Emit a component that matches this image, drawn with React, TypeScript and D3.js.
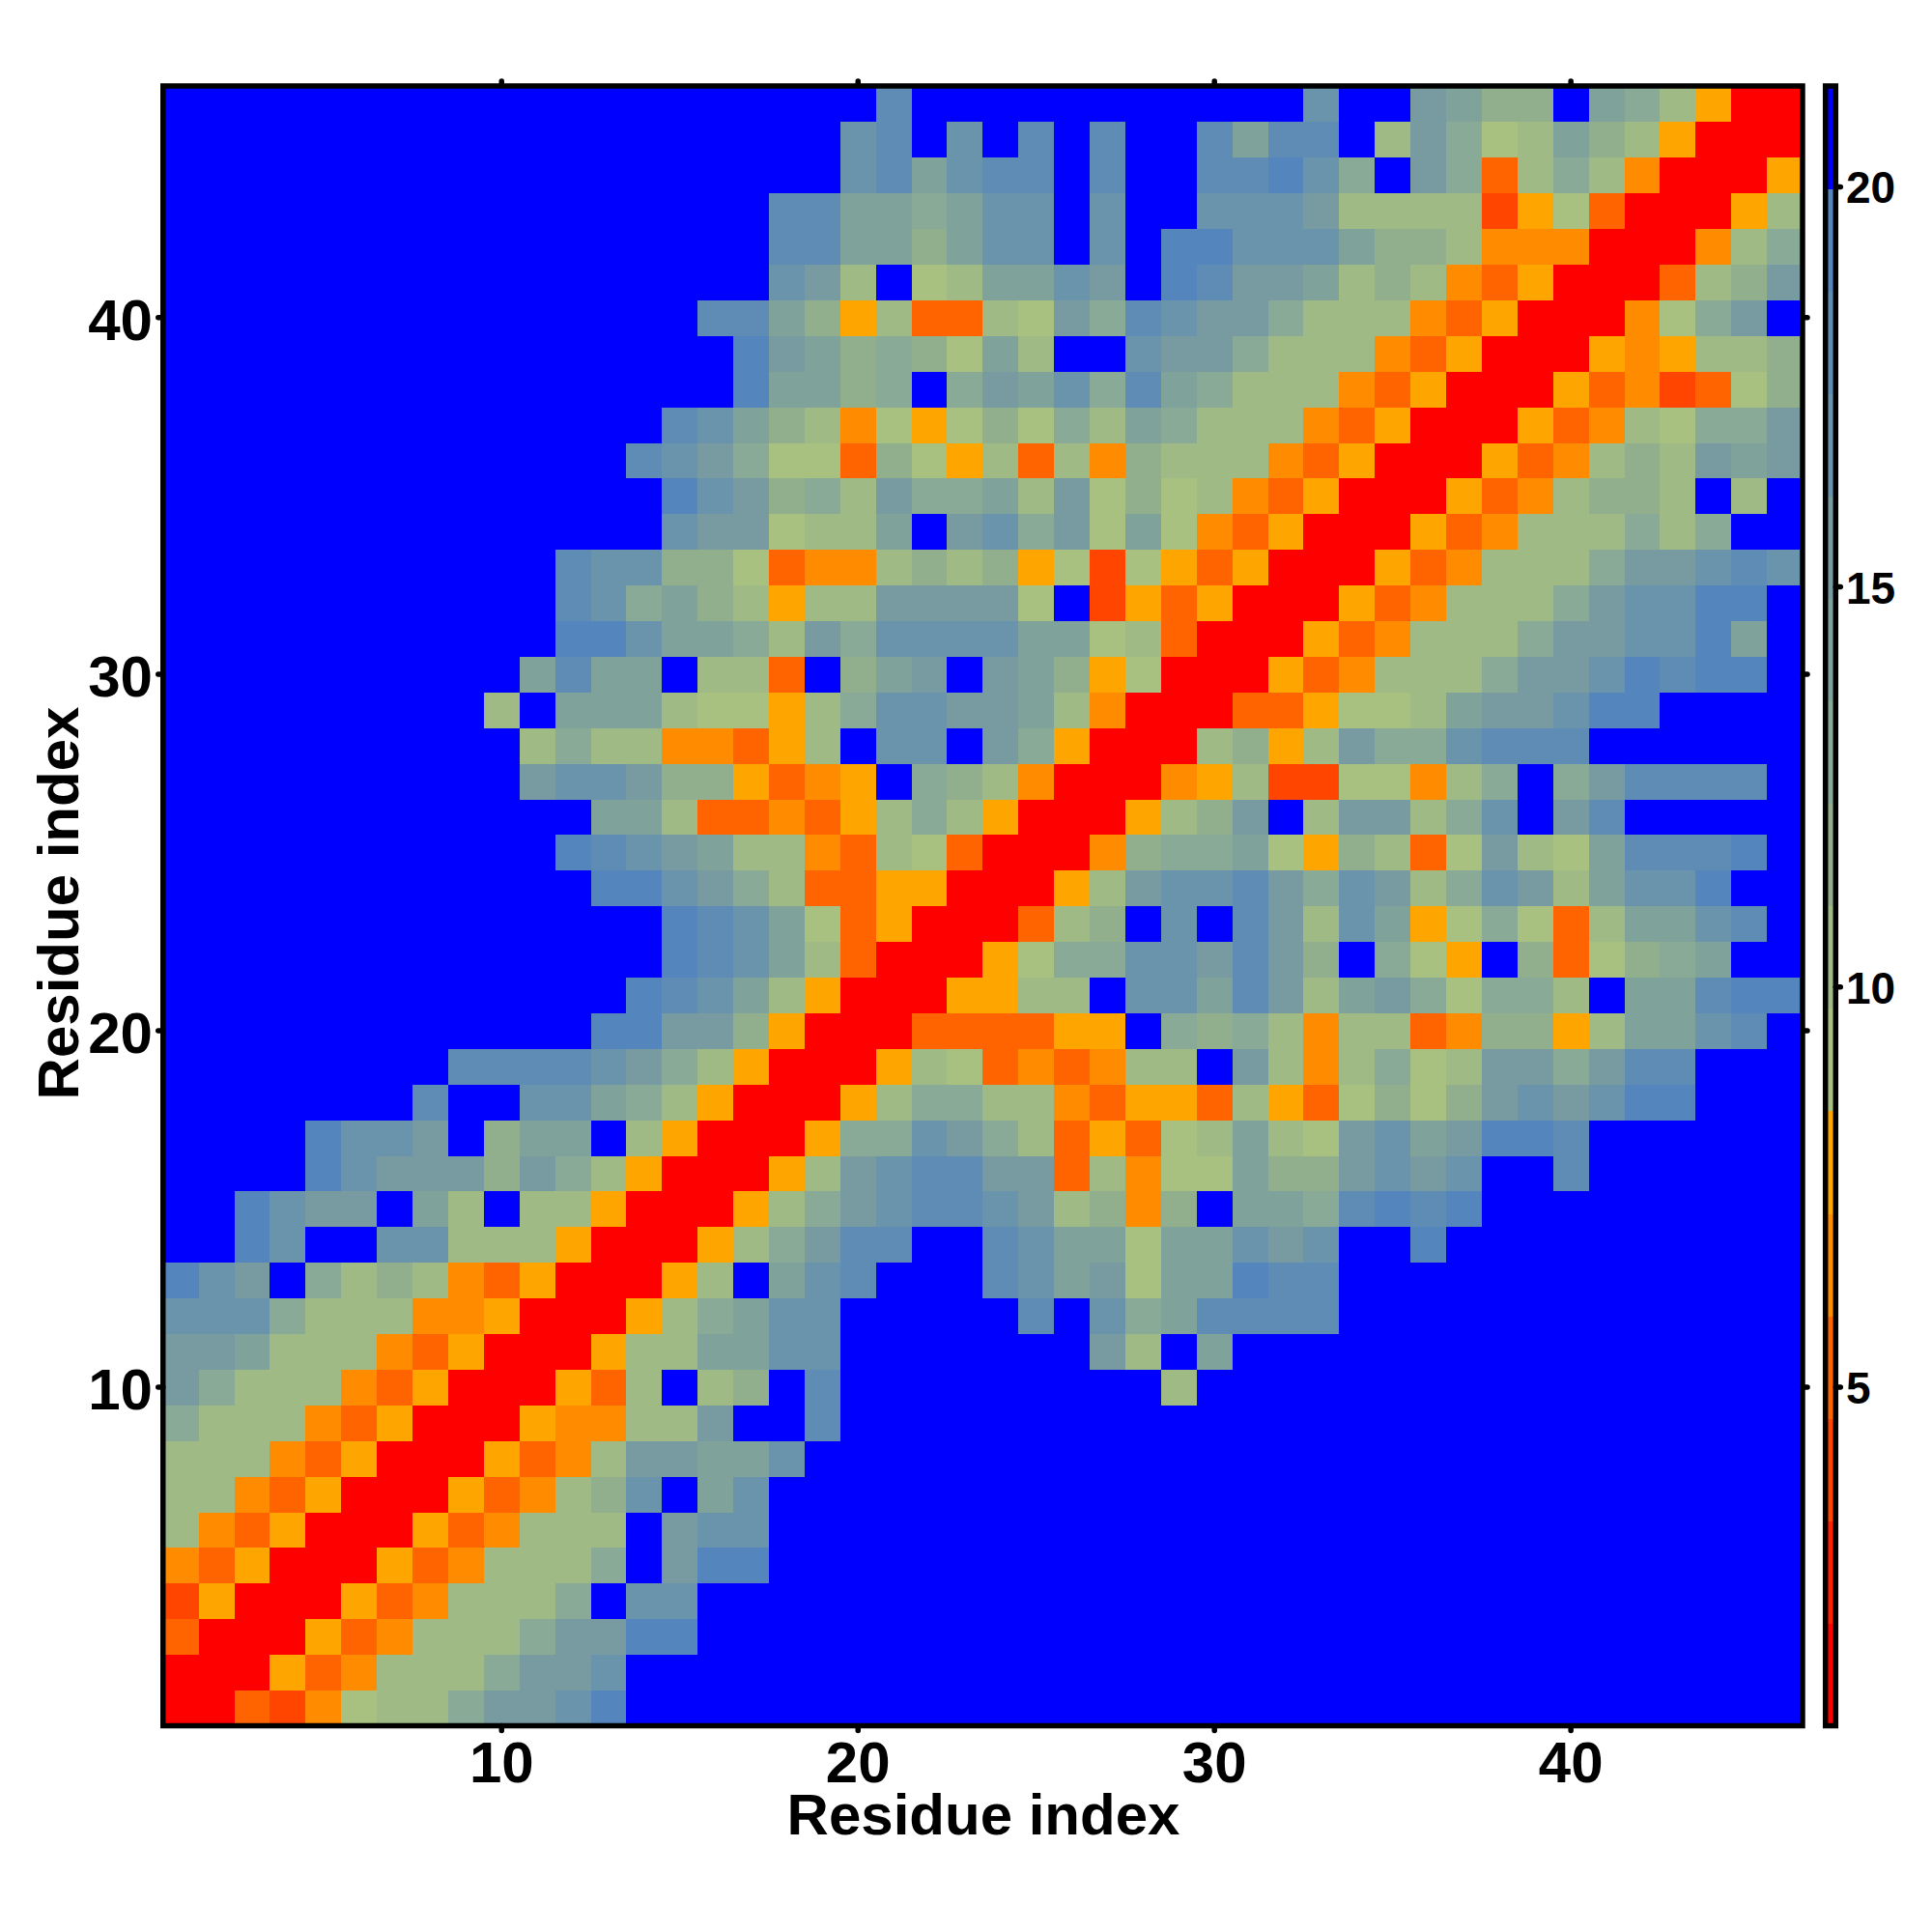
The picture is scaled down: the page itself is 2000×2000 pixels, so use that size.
import React from "react";
import * as d3 from "d3";

const _ = 21;
// Rows run from residue 46 (top) to residue 1 (bottom); columns from residue 1 to 46.
const r46 = [_,_,_,_,_,_,_,_,_,_, _,_,_,_,_,_,_,_,_,_, 18,_,_,_,_,_,_,_,_,_, _,_,16,_,_,14,13,11,11,_, 13,12,10,8,1,1];
const r45 = [_,_,_,_,_,_,_,_,_,_, _,_,_,_,_,_,_,_,_,16, 18,_,16,_,18,_,18,_,_,18, 13,18,17,_,10,14,12,9,10,13, 11,10,8,1,1,1];
const r44 = [_,_,_,_,_,_,_,_,_,_, _,_,_,_,_,_,_,_,_,16, 17,13,15,18,18,_,18,_,_,18, 18,19,16,12,_,14,12,5,10,12, 10,6,1,1,1,8];
const r43 = [_,_,_,_,_,_,_,_,_,_, _,_,_,_,_,_,_,18,17,13, 13,12,13,15,15,_,16,_,_,16, 16,16,14,10,10,10,10,4,8,9, 5,1,1,1,8,10];
const r42 = [_,_,_,_,_,_,_,_,_,_, _,_,_,_,_,_,_,18,17,13, 13,11,13,15,15,_,16,_,19,19, 16,16,15,13,11,11,10,6,6,6, 1,1,1,6,10,12];
const r41 = [_,_,_,_,_,_,_,_,_,_, _,_,_,_,_,_,_,16,14,10, _,9,10,13,13,16,14,_,19,17, 14,14,13,10,11,10,6,5,8,1, 1,1,5,10,11,14];
const r40 = [_,_,_,_,_,_,_,_,_,_, _,_,_,_,_,18,17,13,11,8, 10,5,5,10,9,14,12,17,16,14, 14,12,10,10,10,6,5,8,1,1, 1,6,9,12,14,_];
const r39 = [_,_,_,_,_,_,_,_,_,_, _,_,_,_,_,_,19,14,13,11, 12,11,9,13,10,_,_,16,14,14, 12,10,10,10,6,5,8,1,1,1, 8,6,8,10,10,11];
const r38 = [_,_,_,_,_,_,_,_,_,_, _,_,_,_,_,_,19,13,13,11, 12,_,12,14,13,16,12,17,13,12, 10,10,10,6,5,8,1,1,1,8, 5,6,4,5,9,11];
const r37 = [_,_,_,_,_,_,_,_,_,_, _,_,_,_,18,15,13,11,10,6, 9,8,9,11,9,12,10,13,12,10, 10,10,6,5,8,1,1,1,8,5, 6,10,9,12,12,14];
const r36 = [_,_,_,_,_,_,_,_,_,_, _,_,_,18,16,14,12,9,9,5, 11,9,8,10,5,10,6,11,10,10, 10,6,5,8,1,1,1,8,5,6, 10,11,10,14,13,14];
const r35 = [_,_,_,_,_,_,_,_,_,_, _,_,_,_,19,16,14,11,12,10, 14,12,12,13,10,14,9,11,9,10, 6,5,8,1,1,1,8,5,6,10, 11,11,10,_,10,_];
const r34 = [_,_,_,_,_,_,_,_,_,_, _,_,_,_,16,14,14,9,10,10, 13,_,14,15,12,14,9,13,9,6, 5,8,1,1,1,8,5,6,10,10, 10,12,10,12,_,_];
const r33 = [_,_,_,_,_,_,_,_,_,_, _,18,16,16,11,11,9,5,6,6, 10,11,10,11,8,9,4,9,8,5, 8,1,1,1,8,5,6,10,10,10, 12,14,14,16,17,15];
const r32 = [_,_,_,_,_,_,_,_,_,_, _,18,16,12,13,11,10,8,10,10, 14,14,14,14,9,_,4,8,5,8, 1,1,1,8,5,6,10,10,10,12, 14,15,15,19,19,_];
const r31 = [_,_,_,_,_,_,_,_,_,_, _,19,19,15,13,13,12,10,14,12, 16,16,16,16,13,13,9,10,5,1, 1,1,8,5,6,10,10,10,12,14, 14,16,16,19,13,_];
const r30 = [_,_,_,_,_,_,_,_,_,_, 13,17,13,13,_,10,10,5,_,11, 13,14,_,14,13,11,8,9,1,1, 1,8,5,6,10,10,10,12,14,14, 16,19,17,19,19,_];
const r29 = [_,_,_,_,_,_,_,_,_,10, _,13,13,13,10,9,9,8,10,12, 16,16,14,14,13,10,6,1,1,1, 5,5,8,9,9,10,13,14,14,16, 19,19,_,_,_,_];
const r28 = [_,_,_,_,_,_,_,_,_,_, 10,12,10,10,6,6,5,8,10,_, 16,16,_,14,12,8,1,1,1,10, 11,8,10,14,12,12,15,18,17,18, _,_,_,_,_,_];
const r27 = [_,_,_,_,_,_,_,_,_,_, 14,16,15,14,11,11,8,5,6,8, _,12,11,10,6,1,1,1,6,8, 10,4,4,9,9,6,10,12,_,12, 14,17,17,18,18,_];
const r26 = [_,_,_,_,_,_,_,_,_,_, _,_,13,13,10,5,5,6,5,8, 10,12,10,8,1,1,1,8,10,11, 14,_,10,14,14,10,12,16,_,14, 17,_,_,_,_,_];
const r25 = [_,_,_,_,_,_,_,_,_,_, _,19,17,16,14,13,10,10,6,5, 10,9,5,1,1,1,6,11,12,12, 13,9,8,11,10,5,9,14,10,9, 13,17,17,18,19,_];
const r24 = [_,_,_,_,_,_,_,_,_,_, _,_,19,19,16,14,12,10,5,5, 8,8,1,1,1,8,10,14,15,15, 17,14,12,15,14,10,12,15,14,10, 13,16,16,19,_,_];
const r23 = [_,_,_,_,_,_,_,_,_,_, _,_,_,_,19,18,15,13,9,5, 8,1,1,1,5,10,11,_,15,_, 17,14,10,15,13,8,9,12,9,5, 10,13,13,16,17,_];
const r22 = [_,_,_,_,_,_,_,_,_,_, _,_,_,_,19,17,15,13,10,5, 1,1,1,8,9,12,12,16,16,14, 17,14,11,_,12,9,8,_,11,5, 9,11,12,13,_,_];
const r21 = [_,_,_,_,_,_,_,_,_,_, _,_,_,19,17,15,13,10,8,1, 1,1,8,8,10,10,_,16,16,13, 17,14,10,13,14,12,9,12,12,10, _,13,13,17,19,19];
const r20 = [_,_,_,_,_,_,_,_,_,_, _,_,19,19,14,14,11,8,1,1, 1,5,5,5,5,8,8,_,12,11, 12,10,6,10,10,5,6,11,11,8, 10,13,13,16,17,_];
const r19 = [_,_,_,_,_,_,_,_,18,18, 17,17,16,14,12,10,8,1,1,1, 8,10,9,5,6,5,6,10,10,_, 14,10,6,10,12,9,10,14,14,12, 14,18,18,_,_,_];
const r18 = [_,_,_,_,_,_,_,17,_,_, 16,16,13,12,10,8,1,1,1,8, 10,12,12,10,10,6,5,8,8,5, 10,8,5,9,11,9,11,14,15,14, 16,19,19,_,_,_];
const r17 = [_,_,_,_,19,16,16,14,_,11, 13,13,_,10,8,1,1,1,8,12, 12,15,14,12,10,5,8,5,9,10, 13,10,9,14,15,13,14,19,19,18, _,_,_,_,_,_];
const r16 = [_,_,_,_,19,15,14,14,14,11, 14,12,10,8,1,1,1,8,10,14, 15,17,17,14,14,5,10,6,9,9, 13,11,11,14,16,14,15,_,_,18, _,_,_,_,_,_];
const r15 = [_,_,19,16,14,14,_,13,10,_, 10,10,8,1,1,1,8,10,12,14, 16,18,18,16,14,10,11,6,11,_, 13,13,12,17,19,18,19,_,_,_, _,_,_,_,_,_];
const r14 = [_,_,19,16,_,_,15,15,10,10, 10,8,1,1,1,8,10,12,14,18, 18,_,_,18,16,13,13,9,13,13, 16,14,16,_,_,19,_,_,_,_, _,_,_,_,_,_];
const r13 = [19,16,14,_,12,10,11,10,6,5, 8,1,1,1,8,10,_,13,15,18, _,_,_,18,16,13,14,9,13,13, 19,17,17,_,_,_,_,_,_,_, _,_,_,_,_,_];
const r12 = [16,15,15,12,10,10,10,6,6,8, 1,1,1,8,10,12,13,15,16,_, _,_,_,_,18,_,16,12,13,17, 18,18,18,_,_,_,_,_,_,_, _,_,_,_,_,_];
const r11 = [14,14,13,10,10,10,6,5,8,1, 1,1,8,10,10,13,13,15,15,_, _,_,_,_,_,_,14,10,_,13, _,_,_,_,_,_,_,_,_,_, _,_,_,_,_,_];
const r10 = [14,12,10,10,10,6,5,8,1,1, 1,8,5,10,_,10,11,_,18,_, _,_,_,_,_,_,_,_,10,_, _,_,_,_,_,_,_,_,_,_, _,_,_,_,_,_];
const r9 = [12,10,10,10,6,5,8,1,1,1, 8,6,6,10,10,14,_,_,18,_, _,_,_,_,_,_,_,_,_,_, _,_,_,_,_,_,_,_,_,_, _,_,_,_,_,_];
const r8 = [10,10,10,6,5,8,1,1,1,8, 5,6,10,14,14,13,13,16,_,_, _,_,_,_,_,_,_,_,_,_, _,_,_,_,_,_,_,_,_,_, _,_,_,_,_,_];
const r7 = [10,10,6,5,8,1,1,1,8,5, 6,10,11,15,_,13,16,_,_,_, _,_,_,_,_,_,_,_,_,_, _,_,_,_,_,_,_,_,_,_, _,_,_,_,_,_];
const r6 = [10,6,5,8,1,1,1,8,5,6, 10,10,10,_,14,16,16,_,_,_, _,_,_,_,_,_,_,_,_,_, _,_,_,_,_,_,_,_,_,_, _,_,_,_,_,_];
const r5 = [6,5,8,1,1,1,8,5,6,10, 10,10,12,_,14,19,19,_,_,_, _,_,_,_,_,_,_,_,_,_, _,_,_,_,_,_,_,_,_,_, _,_,_,_,_,_];
const r4 = [4,8,1,1,1,8,5,6,10,10, 10,12,_,16,16,_,_,_,_,_, _,_,_,_,_,_,_,_,_,_, _,_,_,_,_,_,_,_,_,_, _,_,_,_,_,_];
const r3 = [5,1,1,1,8,5,6,10,10,10, 12,14,14,19,19,_,_,_,_,_, _,_,_,_,_,_,_,_,_,_, _,_,_,_,_,_,_,_,_,_, _,_,_,_,_,_];
const r2 = [1,1,1,8,5,6,10,10,10,12, 14,14,16,_,_,_,_,_,_,_, _,_,_,_,_,_,_,_,_,_, _,_,_,_,_,_,_,_,_,_, _,_,_,_,_,_];
const r1 = [1,1,5,4,6,9,10,10,12,14, 14,16,19,_,_,_,_,_,_,_, _,_,_,_,_,_,_,_,_,_, _,_,_,_,_,_,_,_,_,_, _,_,_,_,_,_];

const rowsFromBottom = [r1,r2,r3,r4,r5,r6,r7,r8,r9,r10,r11,r12,r13,r14,r15,r16,r17,r18,r19,r20,r21,r22,r23,r24,r25,r26,r27,r28,r29,r30,r31,r32,r33,r34,r35,r36,r37,r38,r39,r40,r41,r42,r43,r44,r45,r46];

const bandColors = ["#ff0000","#ff2000","#ff4500","#ff6400","#ff8c00","#ffa500","#a8c080","#9fba85","#92af8d","#88aa96","#7fa39b","#789ba2","#6a94ac","#5f8cb5","#5585bd","#0000ff"];
const bandThresholds = [2,3.3,4.6,5.9,7.2,8.5,9.5,10.5,11.5,12.5,13.6,14.8,16.5,18.5,20];
const axisTicks = [10,20,30,40];
const barTicks = [5,10,15,20];
const barDomain = [0.77,21.26];
const title = "Residue index";

const FONT = "'Liberation Sans', Arial, Helvetica, sans-serif";
const SW = 5.5;

export default function App() {
  const x = d3.scaleLinear().domain([0.5,46.5]).range([168.75,1866]);
  const y = d3.scaleLinear().domain([0.5,46.5]).range([1786.5,89]);
  const barY = d3.scaleLinear().domain(barDomain).range([1786.5,89]);
  const color = d3.scaleThreshold<number,string>().domain(bandThresholds).range(bandColors);
  const bandStep = (barDomain[1]-barDomain[0])/bandColors.length;
  const barX0 = 1889.7, barX1 = 1900.3;
  return (
    <svg width={2000} height={2000} style={{position:"absolute",left:0,top:0,background:"#fff"}} fontFamily={FONT} fontWeight="bold">
      <g shapeRendering="crispEdges">
        {rowsFromBottom.map((row,ri)=>row.map((v,ci)=>(
          <rect key={ri+"-"+ci} x={x(ci+0.5)} y={y(ri+1.5)} width={x(ci+1.5)-x(ci+0.5)+0.5} height={y(ri+0.5)-y(ri+1.5)+0.5} fill={color(v)}/>
        )))}
      </g>
      <rect x={x(0.5)} y={y(46.5)} width={x(46.5)-x(0.5)} height={y(0.5)-y(46.5)} fill="none" stroke="#000" strokeWidth={SW}/>
      {axisTicks.map(t=>(
        <g key={t} stroke="#000" strokeWidth={SW} strokeLinecap="round">
          <line x1={x(t)} x2={x(t)} y1={y(0.5)} y2={y(0.5)+5}/>
          <line x1={x(t)} x2={x(t)} y1={y(46.5)} y2={y(46.5)-5}/>
          <line y1={y(t)} y2={y(t)} x1={x(0.5)} x2={x(0.5)-5}/>
          <line y1={y(t)} y2={y(t)} x1={x(46.5)} x2={x(46.5)+5}/>
        </g>
      ))}
      {axisTicks.map(t=>(
        <text key={t} x={x(t)} y={1845} textAnchor="middle" fontSize={60}>{t}</text>
      ))}
      {axisTicks.map(t=>(
        <text key={t} x={158} y={y(t)+23} textAnchor="end" fontSize={60}>{t}</text>
      ))}
      <text x={1018} y={1899} textAnchor="middle" fontSize={60}>{title}</text>
      <text transform="translate(81,935) rotate(-90)" textAnchor="middle" fontSize={60}>{title}</text>
      <g shapeRendering="crispEdges">
        {bandColors.map((c,i)=>{
          const lo = barDomain[0]+i*bandStep, hi = lo+bandStep;
          return <rect key={c} x={barX0} width={barX1-barX0} y={barY(hi)} height={barY(lo)-barY(hi)+0.5} fill={c}/>;
        })}
      </g>
      <rect x={barX0} y={barY(barDomain[1])} width={barX1-barX0} height={barY(barDomain[0])-barY(barDomain[1])} fill="none" stroke="#000" strokeWidth={SW}/>
      {barTicks.map(t=>(
        <g key={t}>
          <line x1={barX1} x2={barX1+5} y1={barY(t)} y2={barY(t)} stroke="#000" strokeWidth={SW} strokeLinecap="round"/>
          <text x={1911} y={barY(t)+17} fontSize={46}>{t}</text>
        </g>
      ))}
    </svg>
  );
}
